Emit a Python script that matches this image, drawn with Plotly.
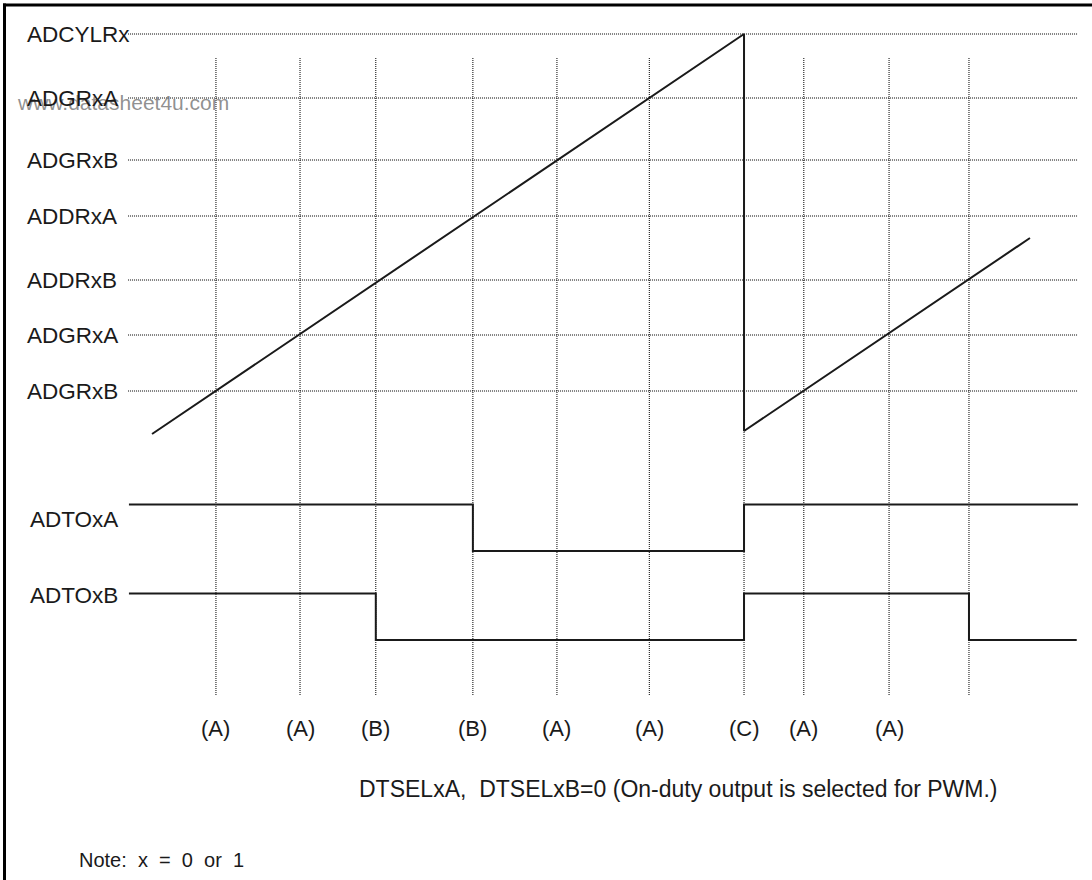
import plotly.graph_objects as go

# ---------------- data ----------------
# counter compare / period register levels (counter units)
level_names = ["ADCYLRx", "ADGRxA", "ADGRxB", "ADDRxA", "ADDRxB", "ADGRxA", "ADGRxB"]
level_values = [100, 84, 68.5, 54.5, 38.5, 24.75, 10.75]

# counter ramp (time units, counter units)
counter_t = [0, 100, 100, 148.3]
counter_v = [0, 100, 0.75, 49]

# event times (where the counter matches a register) and their labels
event_t = [10.8, 25.0, 37.8, 54.2, 68.4, 84.0, 100.0, 110.1, 124.5, 138.0]
event_labels = ["(A)", "(A)", "(B)", "(B)", "(A)", "(A)", "(C)", "(A)", "(A)", ""]

# digital outputs (step after each time)
adtoxa_t = [-3.9, 54.2, 100.0, 156.4]
adtoxa_level = [1, 0, 1, 1]
adtoxb_t = [-3.9, 37.8, 100.0, 138.0, 156.2]
adtoxb_level = [1, 0, 1, 0, 0]

signal_names = ["ADTOxA", "ADTOxB"]
caption = "DTSELxA,\u00a0 DTSELxB=0 (On-duty output is selected for PWM.)"
note = "Note:\u00a0 x\u00a0 =\u00a0 0\u00a0 or\u00a0 1"
watermark = "www.datasheet4u.com"

# ---------------- layout constants ----------------
W, H = 1092, 880
X_RANGE = [-25.68, 158.78]
Y_RANGE = [-111.5, 108.5]
Y2_RANGE = [-7.075, 11.849]
LANE_OFFSETS = [0.0, -1.914]
LEVEL_LINE_X = [-4.05, 156.3]
GRID_Y = [94.0, -65.5]
FONT = "Liberation Sans, Arial, Helvetica, sans-serif"
DOT = "1px,1px"
INK = "#1a1a1a"


def px(x):
    return x / W


def py(y):
    return 1 - y / H


fig = go.Figure()

# dotted horizontal level lines
hx, hy = [], []
for v in level_values:
    hx += [LEVEL_LINE_X[0], LEVEL_LINE_X[1], None]
    hy += [v, v, None]
fig.add_trace(go.Scatter(x=hx, y=hy, mode="lines",
                         line=dict(color="#000000", width=1, dash=DOT),
                         hoverinfo="skip", showlegend=False))

# dotted vertical event lines
vx, vy = [], []
for t in event_t:
    vx += [t, t, None]
    vy += [GRID_Y[0], GRID_Y[1], None]
fig.add_trace(go.Scatter(x=vx, y=vy, mode="lines",
                         line=dict(color="#000000", width=1, dash=DOT),
                         hoverinfo="skip", showlegend=False))

# counter ramp
fig.add_trace(go.Scatter(x=counter_t, y=counter_v, mode="lines",
                         line=dict(color=INK, width=2),
                         hoverinfo="skip", showlegend=False))

# digital outputs on the secondary axis
for t, lv, off in [(adtoxa_t, adtoxa_level, LANE_OFFSETS[0]),
                   (adtoxb_t, adtoxb_level, LANE_OFFSETS[1])]:
    fig.add_trace(go.Scatter(x=t, y=[l + off for l in lv], mode="lines",
                             line=dict(color=INK, width=2, shape="hv"),
                             yaxis="y2", hoverinfo="skip", showlegend=False))

ann = []
# watermark (under the label)
ann.append(dict(x=px(15), xref="paper", y=py(102), yref="paper", text=watermark,
                xanchor="left", yanchor="middle", showarrow=False,
                font=dict(family=FONT, size=21, color="rgba(125,125,125,0.85)")))
# level labels
for name, v in zip(level_names, level_values):
    ann.append(dict(x=px(25), xref="paper", y=v, yref="y", text=name,
                    xanchor="left", yanchor="middle", showarrow=False,
                    font=dict(family=FONT, size=22.5, color=INK)))
# signal labels
for name, off, lv in zip(signal_names, LANE_OFFSETS, [0.67, 0.95]):
    ann.append(dict(x=px(28), xref="paper", y=off + lv, yref="y2", text=name,
                    xanchor="left", yanchor="middle", showarrow=False,
                    font=dict(family=FONT, size=22.5, color=INK)))
# event labels
for t, lab in zip(event_t, event_labels):
    if lab:
        ann.append(dict(x=t, xref="x", y=py(728), yref="paper", text=lab,
                        xanchor="center", yanchor="middle", showarrow=False,
                        font=dict(family=FONT, size=22, color=INK)))
# caption & note
ann.append(dict(x=px(357), xref="paper", y=py(789), yref="paper", text=caption,
                xanchor="left", yanchor="middle", showarrow=False,
                font=dict(family=FONT, size=23, color=INK)))
ann.append(dict(x=px(77), xref="paper", y=py(860), yref="paper", text=note,
                xanchor="left", yanchor="middle", showarrow=False,
                font=dict(family=FONT, size=20, color=INK)))

shapes = [
    dict(type="line", xref="paper", yref="paper", x0=px(3), x1=1, y0=py(5), y1=py(5),
         line=dict(color="#000000", width=3)),
    dict(type="line", xref="paper", yref="paper", x0=px(4.5), x1=px(4.5), y0=0, y1=py(3.5),
         line=dict(color="#000000", width=3)),
]

fig.update_layout(
    width=W, height=H,
    margin=dict(l=0, r=0, t=0, b=0, pad=0),
    paper_bgcolor="white", plot_bgcolor="white",
    xaxis=dict(range=X_RANGE, visible=False, fixedrange=True),
    yaxis=dict(range=Y_RANGE, visible=False, fixedrange=True),
    yaxis2=dict(range=Y2_RANGE, visible=False, overlaying="y", fixedrange=True),
    annotations=ann, shapes=shapes, showlegend=False,
)

fig.write_html(
    "out.html",
    config={"displayModeBar": False},
    post_script="document.body.style.margin='0';document.body.style.overflow='hidden';",
)
